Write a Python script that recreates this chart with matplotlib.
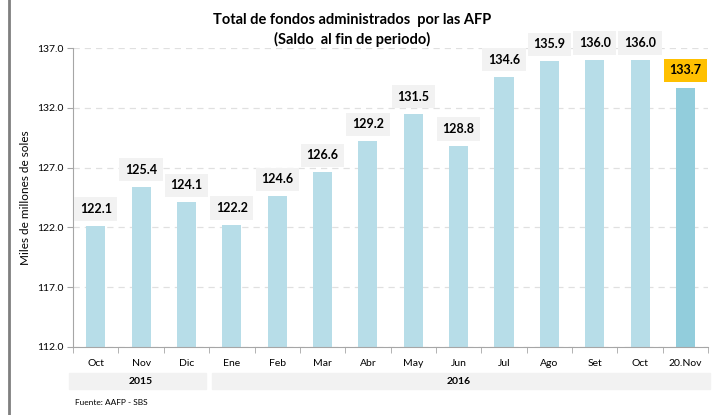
import matplotlib.pyplot as plt
from matplotlib.lines import Line2D
from matplotlib.patches import Rectangle
import numpy as np

months = ["Oct", "Nov", "Dic", "Ene", "Feb", "Mar", "Abr", "May", "Jun",
          "Jul", "Ago", "Set", "Oct", "20.Nov"]
values = [122.1, 125.4, 124.1, 122.2, 124.6, 126.6, 129.2, 131.5, 128.8,
          134.6, 135.9, 136.0, 136.0, 133.7]
years = ["2015", "2016"]
year_spans = [(0, 2), (3, 13)]
yticks = [112.0, 117.0, 122.0, 127.0, 132.0, 137.0]

plt.rcParams['font.family'] = ['Lato', 'DejaVu Sans']

fig = plt.figure(figsize=(7.24, 4.15), dpi=100)
ax = fig.add_axes([0.101, 0.164, 0.877, 0.72])

x = np.arange(len(values))
colors = ['#B7DDE8'] * (len(values) - 1) + ['#92CDDC']
ax.bar(x, [v - 112 for v in values], bottom=112, width=0.42, color=colors, zorder=2)

for i, v in enumerate(values):
    last = i == len(values) - 1
    ax.annotate(f"{v:.1f}", (i, v), xytext=(0, 8), textcoords='offset points',
                ha='center', va='bottom', fontsize=9, fontweight='bold',
                bbox=dict(boxstyle='square,pad=0.45', fc='#FFC000' if last else '#F2F2F2', ec='none'),
                zorder=3)

ax.set_ylim(112, 137)
ax.set_xlim(-0.5, len(values) - 0.5)
ax.set_yticks(yticks)
ax.set_yticklabels([f"{t:.1f}" for t in yticks], fontsize=7.5)
ax.yaxis.grid(True, linestyle=(0, (5, 4)), color='#E0E0E0', linewidth=0.9, zorder=0)
ax.set_ylabel("Miles de millones de soles", fontsize=8.5, labelpad=4)

ax.set_xticks(x)
ax.set_xticklabels(months, fontsize=7.5)
ax.tick_params(axis='x', length=0, pad=9)
ax.set_xticks(np.arange(-0.5, len(values)), minor=True)
ax.tick_params(axis='x', which='minor', length=4, color='#A6A6A6')
ax.tick_params(axis='y', length=4, color='#A6A6A6', pad=3)

for s in ['top', 'right']:
    ax.spines[s].set_visible(False)
for s in ['left', 'bottom']:
    ax.spines[s].set_color('#A6A6A6')

ax.set_title("Total de fondos administrados  por las AFP\n(Saldo  al fin de periodo)",
             fontsize=10.5, fontweight='bold', pad=3, x=0.44, linespacing=1.4)

# year bands under the axis
for label, (a, b) in zip(years, year_spans):
    left = a - 0.5 + (-0.08 if a == 0 else 0.07)
    right = b + 0.5 + (-0.08 if a == 0 else 0.05)
    ax.add_patch(Rectangle((left, -0.087), right - left, -0.055,
                           transform=ax.get_xaxis_transform(), color='#F2F2F2',
                           clip_on=False, zorder=1))
    ax.text((a + b) / 2, -0.115, label, transform=ax.get_xaxis_transform(),
            ha='center', va='center', fontsize=7.5, fontweight='bold')

fig.text(0.104, 0.024, "Fuente: AAFP - SBS", fontsize=6)
fig.add_artist(Line2D([0.012, 0.012], [0, 1], color='#7F7F7F', linewidth=2))

fig.savefig("out.png", dpi=100)
